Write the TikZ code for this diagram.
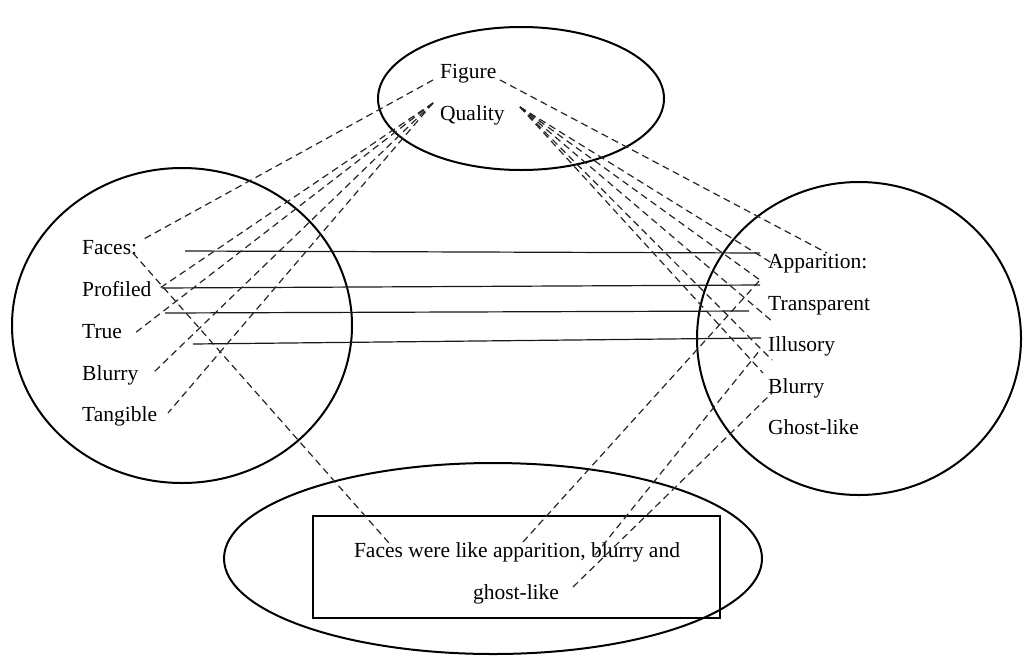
\documentclass[tikz,border=0pt]{standalone}
\usepackage{fontspec}
\setmainfont{Liberation Serif}
\usetikzlibrary{shapes.geometric}
\begin{document}
\begin{tikzpicture}[x=1pt,y=-1pt,
  lbl/.style={font=\fontsize{21.5}{26}\selectfont, inner sep=0pt, anchor=base west},
  ctr/.style={font=\fontsize{21.5}{26}\selectfont, inner sep=0pt, anchor=base},
  oval/.style={draw, ellipse, line width=2pt, inner sep=0pt},
  dashln/.style={line width=1.2pt, dash pattern=on 7pt off 4.5pt, black!85},
  solidln/.style={line width=1.2pt, black!90},
]
\useasboundingbox (0,0) rectangle (1024,656);
\fill[white] (0,0) rectangle (1024,656);

% ovals
\node[oval, minimum width=286pt, minimum height=143pt] (topoval) at (521,98.5) {};
\node[oval, minimum width=340pt, minimum height=315pt] (leftoval) at (182,325.5) {};
\node[oval, minimum width=324pt, minimum height=313pt] (rightoval) at (859,338.5) {};
\node[oval, minimum width=538pt, minimum height=191pt] (bottomoval) at (493,558.5) {};
\node[draw, line width=2pt, inner sep=0pt, minimum width=407pt, minimum height=102pt] (box) at (516.5,567) {};

% labels
\node[lbl] (figure) at (440,78) {Figure};
\node[lbl] (quality) at (440,120) {Quality};
\node[lbl] (faces) at (82,254) {Faces:};
\node[lbl] (profiled) at (82,296) {Profiled};
\node[lbl] (true) at (82,338) {True};
\node[lbl] (blurryL) at (82,380) {Blurry};
\node[lbl] (tangible) at (82,421) {Tangible};
\node[lbl] (apparition) at (768,268) {Apparition:};
\node[lbl] (transparent) at (768,310) {Transparent};
\node[lbl] (illusory) at (768,351) {Illusory};
\node[lbl] (blurryR) at (768,393) {Blurry};
\node[lbl] (ghost) at (768,434) {Ghost-like};
\node[ctr] (boxtxtA) at (517,557) {Faces were like apparition, blurry and};
\node[ctr] (boxtxtB) at (516,599) {ghost-like};

% solid connectors
\coordinate (s1a) at (185,251); \coordinate (s1b) at (760,253);
\coordinate (s2a) at (162,288); \coordinate (s2b) at (760,285);
\coordinate (s3a) at (165,313); \coordinate (s3b) at (749,311);
\coordinate (s4a) at (193,344); \coordinate (s4b) at (761,338);
\draw[solidln] (s1a) -- (s1b);
\draw[solidln] (s2a) -- (s2b);
\draw[solidln] (s3a) -- (s3b);
\draw[solidln] (s4a) -- (s4b);

% dashed connectors: Figure
\coordinate (figL) at (433,80); \coordinate (figR) at (500,80);
\coordinate (facesEnd) at (142,240); \coordinate (appEnd) at (827,253);
\draw[dashln] (figL) -- (facesEnd);
\draw[dashln] (figR) -- (appEnd);

% Faces to box
\coordinate (facesCol) at (133,253); \coordinate (boxFaces) at (389,543);
\draw[dashln] (facesCol) -- (boxFaces);

% Quality left
\coordinate (qL) at (433,103);
\coordinate (eProf) at (160,288);
\coordinate (eTrue) at (135,333);
\coordinate (eBlurL) at (153,373);
\coordinate (eTang) at (168,413);
\draw[dashln] (qL) -- (eProf);
\draw[dashln] (qL) -- (eTrue);
\draw[dashln] (qL) -- (eBlurL);
\draw[dashln] (qL) -- (eTang);

% Quality right
\coordinate (qR) at (520,107);
\coordinate (r1) at (775,265);
\coordinate (r2) at (760,280);
\coordinate (r3) at (773,322);
\coordinate (r4) at (772,360);
\coordinate (r5) at (763,373);
\draw[dashln] (qR) -- (r1);
\draw[dashln] (qR) -- (r2);
\draw[dashln] (qR) -- (r3);
\draw[dashln] (qR) -- (r4);
\draw[dashln] (qR) -- (r5);

% box to right
\coordinate (bApp) at (523,542);
\coordinate (bBlur) at (595,555);
\coordinate (bGhost) at (573,587);
\coordinate (t1) at (760,280);
\coordinate (t2) at (760,350);
\coordinate (t3) at (772,393);
\draw[dashln] (bApp) -- (t1);
\draw[dashln] (bBlur) -- (t2);
\draw[dashln] (bGhost) -- (t3);
\end{tikzpicture}
\end{document}
